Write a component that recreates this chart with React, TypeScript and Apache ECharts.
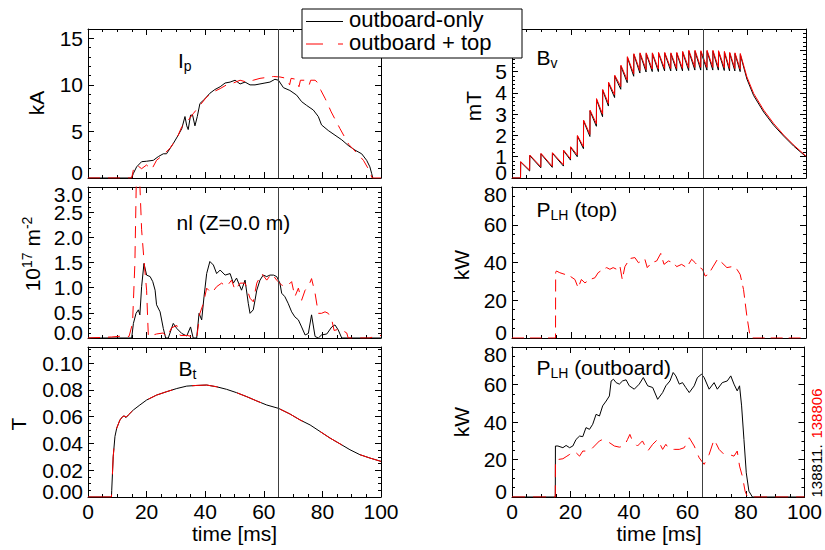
import React, { useEffect, useRef } from "react";
import * as echarts from "echarts";

const FONT = '"Liberation Sans", Arial, Helvetica, sans-serif';
const MARK_T = 65;
const X_TICK_LABELS = [0, 20, 40, 60, 80, 100];

// ---------- data (time [ms], value) ----------
const ipOutboardOnly = [[0,0],[5,0],[10,0],[14.9,0],[15.5,0.5],[16.6,1.2],[18.3,1.75],[20,1.8],[22.3,1.9],[24,2.3],[25.7,2.6],[26.8,2.6],[29.1,3.7],[30.8,4.6],[32,5.3],[33.1,6.6],[33.7,5.6],[34.2,5.2],[35,6.75],[35.7,6.75],[36.5,5.6],[37.3,6.6],[38.2,8.0],[39.9,8.5],[41.6,9.1],[43.3,9.5],[45.1,9.8],[46.8,10.2],[48.5,10.3],[50.2,10.5],[51.9,10.1],[53.6,10.3],[55.3,10.0],[57,10.0],[58.7,10.1],[60.4,10.2],[62.1,10.3],[63.8,10.6],[65,10.5],[66.7,9.7],[68.9,9.4],[71.2,8.9],[72.9,8.2],[74.6,7.8],[76.9,7.3],[78.6,6.6],[79.7,5.7],[82,5.1],[84.3,4.6],[86.6,4.1],[88.8,3.5],[91.1,3.0],[93.4,2.6],[95.1,1.9],[96.2,1.2],[96.8,0.5],[97.2,0]];
const ipOutboardTop = [[0,0],[5,0],[10,0],[14.9,0],[15.5,0.9],[16.6,1.4],[18.3,1.0],[20,1.4],[21.7,0.9],[23.4,1.9],[25.7,2.5],[28,3.2],[30.3,4.25],[32,5.5],[33.7,6.0],[35.9,6.9],[38.2,7.8],[40.5,8.7],[42.8,9.25],[45.1,9.6],[47.3,10.0],[49.6,10.2],[51.9,10.5],[54.2,10.3],[56.4,10.5],[58.7,10.7],[61,10.8],[63.3,10.9],[65.5,10.85],[67.8,10.7],[68.8,10.0],[69.3,10.7],[71,10.6],[72,9.8],[72.5,10.5],[74.6,10.5],[75.5,10.0],[76,10.5],[77.5,10.5],[78.2,10.3],[79.5,9.4],[81,8.5],[83,7.1],[86,5.3],[89,3.6],[92,2.6],[94,1.9],[96,0.8],[97,0],[100,0]];

const nlOutboardOnly = [[0,0],[14.9,0],[15.5,0.29],[16.4,0.49],[17.2,0.56],[17.7,0.46],[18.3,1.02],[19.1,1.48],[20,1.25],[21.2,1.22],[22.1,1.12],[22.9,0.95],[23.4,0.66],[24.6,0.52],[25.7,0.19],[26.5,0],[27.4,0],[29.1,0.29],[30.3,0.19],[32,0.09],[33.7,0.04],[35,0.22],[35.9,0],[37.1,0],[37.9,0.49],[38.8,0.36],[39.6,0.82],[40.5,1.28],[41.6,1.52],[42.8,1.45],[43.9,1.28],[45.1,1.35],[46.8,1.25],[48.5,1.28],[49.6,1.09],[50.7,1.19],[52.4,0.95],[53.6,1.15],[54.7,0.69],[55.3,0.49],[56.4,0.56],[57,0.75],[57.6,0.95],[58.7,1.15],[59.8,1.25],[61,1.22],[62.1,1.25],[63.3,1.25],[64.4,1.22],[65.5,1.09],[66.1,0.89],[67.2,0.82],[68.3,0.69],[69.5,0.52],[70.6,0.42],[71.8,0.36],[72.9,0.22],[74.1,0.06],[75.2,0.09],[76.3,0.46],[77.5,0.03],[78.6,0],[79.7,0.06],[81.5,0.08],[83.2,0.22],[84.3,0.26],[85.4,0.16],[86.6,0],[100,0]];
const nlOutboardTop = [[0,0],[8,0.02],[12,0.04],[14,0.03],[15.2,0.29],[16,1.48],[16.6,3.5],[17.4,3.5],[18.3,2.15],[19.1,1.55],[20,0.95],[20.6,0.03],[23.4,0.08],[25.7,0.1],[27,0.02],[28.5,0.2],[30.3,0.25],[31.5,0.05],[34,0.05],[37.1,0],[38.2,0.49],[39.4,0.69],[40.5,0.99],[42.2,0.89],[43.9,1.02],[45.6,1.09],[47.3,1.02],[49,1.15],[50.2,0.95],[51.9,1.09],[53.6,1.09],[55.3,0.79],[56.4,0.72],[57.6,1.09],[59.3,1.28],[61,1.15],[62.7,1.28],[64.4,1.15],[66.1,1.05],[67.8,1.02],[69.5,1.12],[70.6,0.82],[71.8,0.99],[72.9,0.75],[74.1,0.95],[75.2,1.02],[76.3,1.18],[77.5,0.89],[78.6,0.49],[79.7,0.49],[80.9,0.52],[82,0.49],[83.2,0.36],[84,0.15],[86,0.18],[88.3,0.1],[88.8,0],[96,0],[98,0.03],[100,0.05]];

const btOutboardOnly = [[0,0],[8,0],[8.1,0.005],[8.6,0.03],[9.2,0.0452],[9.8,0.0514],[10.9,0.0575],[11.8,0.06],[12.3,0.0606],[13,0.0593],[13.8,0.0613],[15.5,0.065],[17.7,0.0687],[20,0.0724],[23.4,0.0761],[26.8,0.0786],[30.3,0.081],[33.7,0.0828],[37.1,0.0833],[40.5,0.0836],[43.9,0.0823],[47.3,0.0804],[50.7,0.0779],[54.2,0.0749],[57.6,0.0717],[61,0.0687],[65,0.0662],[68.9,0.062],[72.4,0.0575],[75.8,0.0538],[79.2,0.0489],[82.6,0.044],[86,0.0397],[89.4,0.0353],[92.8,0.0316],[96.2,0.0291],[100,0.0266]];
const btOutboardTop = [[0,0],[8,0],[8.1,0.005],[8.6,0.03],[9.2,0.0452],[9.8,0.0514],[10.9,0.0575],[11.8,0.06],[12.3,0.0604],[13,0.0598],[13.8,0.0613],[15.5,0.065],[17.7,0.0687],[20,0.0724],[23.4,0.0761],[26.8,0.0786],[30.3,0.081],[33.7,0.0828],[37.1,0.0833],[40.5,0.0836],[43.9,0.0823],[47.3,0.0804],[50.7,0.0779],[54.2,0.0749],[57.6,0.0717],[61,0.0687],[65,0.0662],[68.9,0.062],[72.4,0.0575],[75.8,0.0538],[79.2,0.0489],[82.6,0.044],[86,0.0397],[89.4,0.0353],[92.8,0.0316],[96.2,0.0291],[100,0.0266]];

// Bv sawtooth: tooth times, value just before each rise and the peak after it
const bvToothT = [2.9,6.0,9.8,13.7,17.5,19.9,22.2,24.3,26.5,28.7,30.8,32.8,34.9,37.0,39.2,41.4,43.5,45.6,47.7,49.8,51.9,54.0,56.0,58.0,60.1,62.2,64.2,66.3,68.3,70.2,72.2,74.0,75.8,77.6];
const bvTopPeak = [0.77,1.08,1.16,1.19,1.31,1.47,2.0,2.72,3.19,3.73,4.16,4.5,4.83,5.3,5.7,5.84,5.88,5.88,5.88,5.9,5.9,5.88,5.9,5.95,6.0,6.0,5.98,6.0,6.0,5.98,5.95,5.9,5.88,5.85];
const bvTopTrough = [0,0.37,0.53,0.55,0.62,0.9,1.08,1.47,2.05,2.55,3.0,3.5,3.9,4.3,4.6,4.9,5.05,5.1,5.12,5.12,5.15,5.15,5.15,5.15,5.18,5.2,5.2,5.2,5.2,5.2,5.18,5.15,5.15,5.12];
const bvOnlyPeak = [0.75,1.05,1.13,1.16,1.28,1.44,1.97,2.68,3.15,3.69,4.12,4.45,4.78,5.25,5.66,5.8,5.84,5.84,5.84,5.86,5.86,5.84,5.86,5.9,5.95,5.95,5.93,5.95,5.95,5.93,5.9,5.86,5.84,5.8];
const bvOnlyTrough = [0,0.33,0.48,0.5,0.56,0.84,1.0,1.38,1.95,2.43,2.88,3.38,3.78,4.17,4.48,4.78,4.93,4.98,5.0,5.0,5.03,5.03,5.03,5.03,5.05,5.07,5.07,5.07,5.07,5.07,5.05,5.03,5.03,5.0];
const bvTopTail = [[79.9,4.75],[82.2,3.97],[85.6,3.19],[89,2.56],[92.4,2.02],[95.8,1.55],[100,1.03]];
const bvOnlyTail = [[79.9,4.65],[82.2,3.87],[85.6,3.1],[89,2.48],[92.4,1.97],[95.8,1.5],[100,1.0]];

const plhTopOutboardTop = [[0,0],[14.8,0],[14.85,34.6],[15.1,35.5],[16.25,34.6],[18,33.7],[19.7,32.8],[21.4,31],[22.5,26.6],[23.6,31],[24.8,29.2],[26.5,31],[28.2,31.9],[29.3,34.6],[31,36.4],[32.2,37.3],[33.3,36.4],[34.4,37.3],[35.6,36.4],[36.7,38.1],[37.5,31],[38.4,37.8],[40.1,42.1],[41.8,42.6],[43,39.9],[44.1,40.8],[45.2,41.7],[46,37.3],[47.5,39.9],[49.2,40.8],[50.6,44.8],[51.7,39],[53.2,40.8],[54.9,39.9],[56,37.8],[57.7,39],[59.4,37.3],[61.1,41.7],[62.3,39.9],[63.4,37.8],[64.8,36.4],[65.7,32.8],[66.8,33.7],[68.5,38.1],[69.9,41.7],[71.4,39.9],[73.1,37.3],[74.8,37.8],[76.5,36.4],[77.6,33.7],[78.75,25.7],[79.9,11.4],[80.8,2.5],[81.6,0],[100,0]];

const plhOutOutboardOnly = [[0,0],[14.8,0],[14.85,27.2],[15.7,27.2],[17.4,26.3],[18.5,27.5],[19.7,26.3],[20.8,27.2],[21.9,30.7],[23.1,32.5],[24.2,32.2],[25.3,37],[26.5,36.1],[27.6,38.8],[28.75,44.1],[29.9,43.2],[31,48.6],[32.2,51.2],[33.3,53.9],[33.9,61.9],[34.7,62.8],[35.6,61],[36.7,60.2],[37.8,61.9],[39,62.5],[40.1,59.3],[41.8,57.5],[43.5,60.2],[44.9,63.7],[46.4,59.3],[48.1,58.4],[49.8,52.1],[51.5,55.7],[52.6,59.3],[54,61.9],[55.1,66.4],[56,64.6],[57.2,60.2],[58.3,61],[59.4,58.4],[60.6,55.7],[62.3,59.3],[63.4,63.7],[64.8,65.5],[65.7,63.7],[67.4,57.5],[69.1,61],[70.2,57.5],[71.9,61],[73.6,61.9],[74.8,64.6],[75.9,60.2],[77,56.6],[77.8,59.3],[78.5,48.6],[79.3,30.7],[80.1,12.9],[81,3.1],[82.2,0],[100,0]];
const plhOutOutboardTop = [[0,0],[14.8,0],[14.85,20],[15.7,20],[17.4,20.4],[18.5,21.5],[19.7,22.7],[20.8,24.5],[21.9,23.6],[23.1,21.8],[24.2,24.5],[26.5,24.5],[28.2,27.2],[29.9,29.9],[31,30.7],[32.2,29.9],[33.3,29],[35,27.2],[36.7,26.6],[38.4,27.2],[39.5,30.7],[40.3,33.4],[41.2,29.9],[42.9,27.2],[44.6,29.9],[46.4,24.5],[48.1,28.1],[49.8,30.7],[51.5,25.4],[52.6,28.1],[53.8,25.4],[55.5,25.4],[57.2,25.4],[58.9,26.3],[60.6,31.6],[62.3,27.2],[64,20.9],[65.7,17.4],[67.4,22.7],[69.1,30.7],[70.8,25.4],[72.5,22.7],[74.2,22.7],[75.9,21.8],[77,24.5],[77.8,16.5],[78.75,11.1],[79.7,3.1],[80.5,0],[100,0]];

// ---------- layout ----------
// labelMax: highest tick label that is not hidden behind the legend box
const PANELS = [
  { grid: { left: 88, top: 29, width: 293, height: 149 }, y: { min: 0, max: 16, interval: 5, minor: 5, dec: 0, labelMax: 16 }, xLabels: false },
  { grid: { left: 512, top: 29, width: 294, height: 149 }, y: { min: 0, max: 7, interval: 1, minor: 5, dec: 0, labelMax: 5 }, xLabels: false },
  { grid: { left: 88, top: 187, width: 293, height: 151 }, y: { min: 0, max: 3, interval: 0.5, minor: 5, dec: 1, labelMax: 3 }, xLabels: false },
  { grid: { left: 512, top: 187, width: 294, height: 151 }, y: { min: 0, max: 80, interval: 20, minor: 4, dec: 0, labelMax: 80 }, xLabels: false },
  { grid: { left: 88, top: 347, width: 293, height: 150 }, y: { min: 0, max: 0.112, interval: 0.02, minor: 4, dec: 2, labelMax: 0.112 }, xLabels: true },
  { grid: { left: 512, top: 347, width: 294, height: 150 }, y: { min: 0, max: 80, interval: 20, minor: 4, dec: 0, labelMax: 80 }, xLabels: true },
];

function sawtooth(times: number[], troughs: number[], peaks: number[], tail: number[][]) {
  const out: number[][] = [[0, 0]];
  times.forEach((t, i) => {
    out.push([t, troughs[i]]);
    out.push([t + 0.05, peaks[i]]);
  });
  return out.concat(tail);
}

const LBL = { fontSize: 21, fontFamily: FONT, color: "#000" };

function buildOption() {
  const frameLine = { show: true, onZero: false, lineStyle: { color: "#000", width: 1 } };
  const tick = { show: true, inside: true, length: 6, lineStyle: { color: "#000", width: 1 } };
  const grid = PANELS.map((p) => ({ ...p.grid, containLabel: false }));
  const xAxis: any[] = [];
  const yAxis: any[] = [];
  PANELS.forEach((p, i) => {
    const xBase = {
      type: "value", gridIndex: i, min: 0, max: 100, interval: 20,
      axisLine: frameLine, axisTick: tick,
      minorTick: { show: true, splitNumber: 4, length: 3, lineStyle: { color: "#000", width: 1 } },
      splitLine: { show: false }, minorSplitLine: { show: false },
    };
    xAxis.push({ ...xBase, position: "bottom",
      axisLabel: { show: p.xLabels, margin: 6, ...LBL, lineHeight: 17,
        formatter: (v: number) => (X_TICK_LABELS.includes(v) ? String(v) : "") } });
    xAxis.push({ ...xBase, position: "top", axisLabel: { show: false } });

    const y = p.y;
    const maxIsTick = Math.abs(y.max / y.interval - Math.round(y.max / y.interval)) < 1e-6;
    const maxShown = maxIsTick && y.labelMax >= y.max;
    const yBase = {
      type: "value", gridIndex: i, min: y.min, max: y.max, interval: y.interval,
      splitLine: { show: false }, minorSplitLine: { show: false },
    };
    const yTicks = {
      axisLine: frameLine, axisTick: tick,
      minorTick: { show: true, splitNumber: y.minor, length: 3, lineStyle: { color: "#000", width: 1 } },
    };
    // main left axis: frame, ticks and inner labels
    yAxis.push({ ...yBase, ...yTicks, position: "left",
      axisLabel: { show: true, margin: 5, ...LBL, showMinLabel: false, showMaxLabel: false,
        formatter: (v: number) => (v > y.labelMax + 1e-9 ? "" : v.toFixed(y.dec)) } });
    // mirrored right axis: frame and ticks only
    yAxis.push({ ...yBase, ...yTicks, position: "right", axisLabel: { show: false } });
    // end labels, nudged inside the frame
    yAxis.push({ ...yBase, position: "left", offset: 0,
      axisLine: { show: false, onZero: false }, axisTick: { show: false }, minorTick: { show: false },
      axisLabel: {
        show: true, margin: 5, ...LBL, showMinLabel: true, showMaxLabel: maxShown,
        formatter: (v: number) => {
          const s = v.toFixed(y.dec);
          if (Math.abs(v - y.min) < 1e-9) return `{lo|${s}}`;
          if (maxShown && Math.abs(v - y.max) < 1e-9) return `{hi|${s}}`;
          return "";
        },
        rich: {
          lo: { ...LBL, padding: [0, 0, 11, 0] },
          hi: { ...LBL, padding: [15, 0, 0, 0] },
        },
      } });
  });

  const black = (i: number, data: number[][], withMark = false) => ({
    type: "line", xAxisIndex: 2 * i, yAxisIndex: 3 * i, data, showSymbol: false, symbol: "none",
    silent: true, clip: true, z: 2,
    lineStyle: { color: "#000", width: 1 },
    markLine: withMark ? {
      silent: true, symbol: ["none", "none"], label: { show: false },
      lineStyle: { color: "#404040", width: 1, type: "solid" },
      data: [{ xAxis: MARK_T }],
    } : undefined,
  });
  const red = (i: number, data: number[][], dash: number[] | null, withMark = false) => ({
    ...black(i, data, withMark), z: 3,
    lineStyle: { color: "#ff0000", width: 1, type: dash ? dash : "solid" },
  });

  const series = [
    black(0, ipOutboardOnly, true), red(0, ipOutboardTop, [12, 8]),
    black(1, sawtooth(bvToothT, bvOnlyTrough, bvOnlyPeak, bvOnlyTail), true),
    red(1, sawtooth(bvToothT, bvTopTrough, bvTopPeak, bvTopTail), null),
    black(2, nlOutboardOnly, true), red(2, nlOutboardTop, [12, 8]),
    red(3, plhTopOutboardTop, [12, 6], true),
    black(4, btOutboardOnly, true), red(4, btOutboardTop, [26, 20]),
    black(5, plhOutOutboardOnly, true), red(5, plhOutOutboardTop, [13, 8]),
  ];

  const RICH = {
    m: { fontSize: 21, fontFamily: FONT, fill: "#000", lineHeight: 26 },
    sub: { fontSize: 14, fontFamily: FONT, fill: "#000", lineHeight: 12, verticalAlign: "bottom" },
    sup: { fontSize: 14, fontFamily: FONT, fill: "#000", lineHeight: 12, verticalAlign: "top" },
    b: { fontSize: 15, fontFamily: FONT, fill: "#000", lineHeight: 16 },
    r: { fontSize: 15, fontFamily: FONT, fill: "#ff0000", lineHeight: 16 },
  };
  const title = (x: number, y: number, text: string) => ({
    type: "text", x, y, silent: true, z: 50,
    style: { text, rich: RICH, fontSize: 21, fontFamily: FONT, fill: "#000", align: "left", verticalAlign: "top" },
  });
  const rotated = (x: number, y: number, text: string) => ({
    type: "text", x, y, rotation: Math.PI / 2, silent: true, z: 50,
    style: { text, rich: RICH, fontSize: 21, fontFamily: FONT, fill: "#000", align: "center", verticalAlign: "middle" },
  });
  const plain = (x: number, y: number, text: string, size = 21, align = "center", lh = 22) => ({
    type: "text", x, y, silent: true, z: 101,
    style: { text, fontSize: size, fontFamily: FONT, fill: "#000", align, verticalAlign: "middle", lineHeight: lh },
  });

  const graphic = [
    title(178, 47, "{m|I}{sub|p}"),
    title(176.5, 209.5, "{m|nl (Z=0.0 m)}"),
    title(178.4, 355, "{m|B}{sub|t}"),
    title(536.4, 44, "{m|B}{sub|v}"),
    title(536.4, 196, "{m|P}{sub|LH}{m| (top)}"),
    title(536.4, 354, "{m|P}{sub|LH}{m| (outboard)}"),
    rotated(36.5, 103, "{m|kA}"),
    rotated(32.7, 254, "{m|10}{sup|17}{m| m}{sup|-2}"),
    rotated(18.5, 424, "{m|T}"),
    rotated(473.5, 106, "{m|mT}"),
    rotated(461, 265, "{m|kW}"),
    rotated(461, 422, "{m|kW}"),
    rotated(816, 443, "{b|138811.} {r|138806}"),
    plain(234.5, 533, "time [ms]", 21, "center", 17),
    plain(659, 533, "time [ms]", 21, "center", 17),
    { type: "rect", z: 100, silent: true, shape: { x: 302, y: 9, width: 220, height: 49 },
      style: { fill: "#fff", stroke: "#000", lineWidth: 1 } },
    { type: "line", z: 101, silent: true, shape: { x1: 306, y1: 21.5, x2: 343, y2: 21.5 },
      style: { stroke: "#000", lineWidth: 1 } },
    { type: "line", z: 101, silent: true, shape: { x1: 306, y1: 44, x2: 343, y2: 44 },
      style: { stroke: "#ff0000", lineWidth: 1, lineDash: [17, 15] } },
    plain(349, 19.5, "outboard-only", 22, "left"),
    plain(349, 42, "outboard + top", 22, "left"),
  ];

  return {
    animation: false,
    backgroundColor: "#fff",
    textStyle: { fontFamily: FONT },
    grid, xAxis, yAxis, series, graphic,
  };
}

export default function App() {
  const ref = useRef<HTMLDivElement>(null);
  useEffect(() => {
    if (!ref.current) return;
    const chart = echarts.init(ref.current, null, { renderer: "svg" });
    chart.setOption(buildOption() as any);
    return () => chart.dispose();
  }, []);
  return (
    <div
      ref={ref}
      style={{ position: "fixed", left: 0, top: 0, width: 825, height: 550, background: "#fff" }}
    />
  );
}
